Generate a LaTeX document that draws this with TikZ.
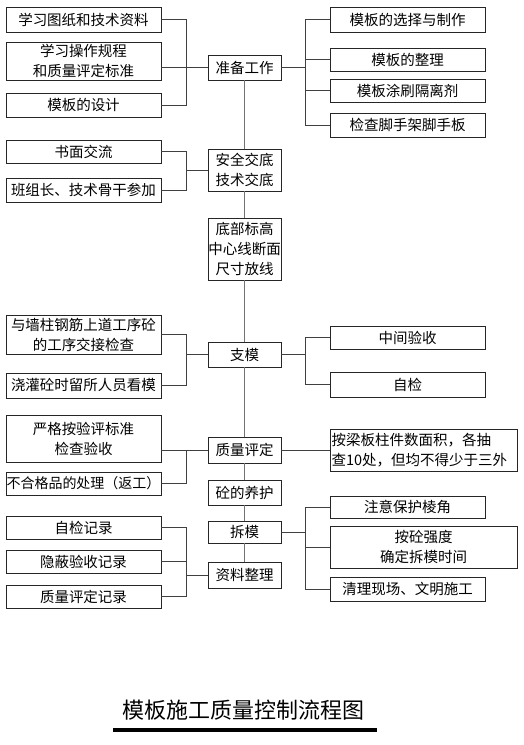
\documentclass[tikz,border=0pt]{standalone}
\usepackage{fontspec}
\newfontfamily\cjk{Noto Sans CJK SC}
\begin{document}
\begin{tikzpicture}[x=1pt,y=-1pt,
  box/.style={draw=black!85, line width=0.9pt, inner sep=0pt, align=center,
    font=\cjk\fontsize{14.5}{20}\selectfont},
  lbox/.style={box, minimum width=155pt},
  cbox/.style={box, minimum width=73pt},
  conn/.style={draw=black!75, line width=0.9pt},
  spine/.style={draw=black!55, line width=1pt}]
\useasboundingbox (0,0) rectangle (524,745);
% left column
\node[lbox, minimum height=25pt] (L1) at (83.5,19.5) {学习图纸和技术资料};
\node[lbox, minimum height=38pt] (L2) at (83.5,61) {学习操作规程\\和质量评定标准};
\node[lbox, minimum height=24pt] (L3) at (83.5,105) {模板的设计};
\node[lbox, minimum height=23pt] (L4) at (83.5,151.5) {书面交流};
\node[lbox, minimum height=24pt] (L5) at (83.5,190) {班组长、技术骨干参加};
\node[lbox, minimum height=39pt] (L6) at (83.5,334.5) {与墙柱钢筋上道工序砼\\的工序交接检查};
\node[lbox, minimum height=25pt] (L7) at (83.5,385.5) {浇灌砼时留所人员看模};
\node[lbox, minimum height=47pt] (L8) at (83.5,438.5) {严格按验评标准\\检查验收};
\node[lbox, minimum height=23pt, font=\cjk\fontsize{14}{20}\selectfont] (L9) at (83.5,483.5) {不合格品的处理（返工）};
\node[lbox, minimum height=23pt] (L10) at (83.5,527.5) {自检记录};
\node[lbox, minimum height=23pt] (L11) at (83.5,561.5) {隐蔽验收记录};
\node[lbox, minimum height=23pt] (L12) at (83.5,596.5) {质量评定记录};
% center column
\node[cbox, minimum height=25pt] (C1) at (244.5,67.5) {准备工作};
\node[cbox, minimum height=42pt] (C2) at (244.5,170) {安全交底\\技术交底};
\node[cbox, minimum height=62pt] (C3) at (244.5,249) {底部标高\\中心线断面\\尺寸放线};
\node[cbox, minimum height=25pt] (C4) at (244.5,354.5) {支模};
\node[cbox, minimum height=26pt] (C5) at (244.5,450) {质量评定};
\node[cbox, minimum height=25pt] (C6) at (244.5,492.5) {砼的养护};
\node[cbox, minimum height=22pt] (C7) at (244.5,532) {拆模};
\node[cbox, minimum height=26pt] (C8) at (244.5,575) {资料整理};
% right column
\node[lbox, minimum height=25pt] (R1) at (407.5,19.5) {模板的选择与制作};
\node[lbox, minimum height=23pt] (R2) at (407.5,59.5) {模板的整理};
\node[lbox, minimum height=23pt] (R3) at (407.5,90.5) {模板涂刷隔离剂};
\node[lbox, minimum height=24pt] (R4) at (407.5,125) {检查脚手架脚手板};
\node[lbox, minimum height=23pt] (R5) at (407.5,337.5) {中间验收};
\node[lbox, minimum height=25pt] (R6) at (407.5,384.5) {自检};
\node[box, align=left, text width=184pt, inner xsep=1.5pt, minimum height=42pt] (R7) at (423.5,450) {按梁板柱件数面积，各抽\\查10处，但均不得少于三外};
\node[lbox, minimum height=22pt] (R8) at (407.5,507) {注意保护棱角};
\node[box, minimum width=187pt, minimum height=42pt] (R9) at (423.5,547) {按砼强度\\确定拆模时间};
\node[lbox, minimum height=24pt] (R10) at (407.5,589) {清理现场、文明施工};
% bracket x positions
\coordinate (bl) at (186,0);
\coordinate (br) at (305,0);
% spine
\draw[spine] (C1.south) -- (C2.north);
\draw[spine] (C2.south) -- (C3.north);
\draw[spine] (C3.south) -- (C4.north);
\draw[spine] (C4.south) -- (C5.north);
\draw[spine] (C5.south) -- (C6.north);
\draw[spine] (C6.south) -- (C7.north);
\draw[spine] (C7.south) -- (C8.north);
% group 1
\draw[conn] (L1.east) -- (L1.east -| bl) |- (L3.east);
\draw[conn] (C1.west) -- (C1.west -| L2.east);
\draw[conn] (R1.west) -- (R1.west -| br) |- (R4.west);
\draw[conn] (R2.west) -- (R2.west -| br);
\draw[conn] (R3.west) -- (R3.west -| br);
\draw[conn] (C1.east) -- (C1.east -| br);
% group 2
\draw[conn] (L4.east) -- (L4.east -| bl) |- (L5.east);
\draw[conn] (C2.west) -- (C2.west -| bl);
% group 支模
\draw[conn] (L6.east) -- (L6.east -| bl) |- (L7.east);
\draw[conn] (C4.west) -- (C4.west -| bl);
\draw[conn] (R5.west) -- (R5.west -| br) |- (R6.west);
\draw[conn] (C4.east) -- (C4.east -| br);
% group 质量评定
\draw[conn] (C5.west) -- (C5.west -| L8.east);
\draw[conn] (C5.west -| bl) |- (L9.east);
\draw[conn] (C5.east) -- (C5.east -| R7.west);
% group 拆模
\draw[conn] (R8.west) -- (R8.west -| br) |- (R10.west);
\draw[conn] (R9.west) -- (R9.west -| br);
\draw[conn] (C7.east) -- (C7.east -| br);
% group 资料整理
\draw[conn] (L10.east) -- (L10.east -| bl) |- (L12.east);
\draw[conn] (L11.east) -- (L11.east -| bl);
\draw[conn] (C8.west) -- (C8.west -| bl);
% title
\node[inner sep=0pt, font=\cjk\fontsize{22}{24}\selectfont] (title) at (243.5,710) {模板施工质量控制流程图};
\coordinate (ul1) at (113,730);
\coordinate (ul2) at (377,730);
\draw[line width=4pt] (ul1) -- (ul2);
\end{tikzpicture}
\end{document}
